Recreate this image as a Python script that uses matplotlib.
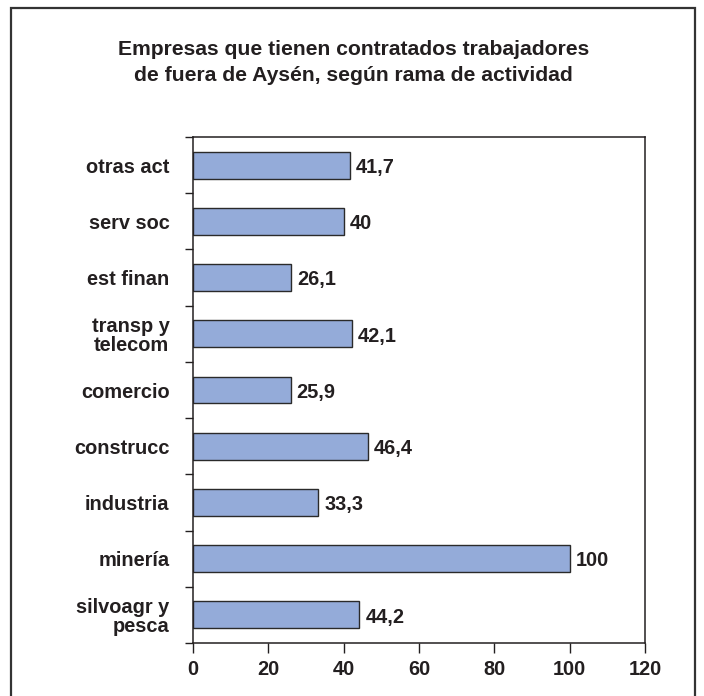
import matplotlib
matplotlib.use("Agg")
import matplotlib.pyplot as plt
from matplotlib.patches import Rectangle
import numpy as np

plt.rcParams['font.family'] = ['Liberation Sans', 'DejaVu Sans']
plt.rcParams['font.weight'] = 'bold'

categories = ["silvoagr y\npesca", "minería", "industria", "construcc", "comercio",
              "transp y\ntelecom", "est finan", "serv soc", "otras act"]
values = [44.2, 100, 33.3, 46.4, 25.9, 42.1, 26.1, 40, 41.7]
value_labels = ["44,2", "100", "33,3", "46,4", "25,9", "42,1", "26,1", "40", "41,7"]
xticks = [0, 20, 40, 60, 80, 100, 120]
title = "Empresas que tienen contratados trabajadores\nde fuera de Aysén, según rama de actividad"

FS = 14.4
TXT = '#231f20'

fig = plt.figure(figsize=(7.04, 6.96), dpi=100)
fig.patch.set_facecolor('white')

# outer frame
fig.patches.append(Rectangle((11/704, -0.02), (695-11)/704, 1 - 8/696 + 0.02,
                             transform=fig.transFigure, fill=False,
                             edgecolor='#333333', linewidth=1.6))

ax = fig.add_axes([193/704, 1 - 643/696, (645-193)/704, (643-137)/696])
y = np.arange(len(categories))
ax.barh(y, values, height=0.48, color='#94ABD9', edgecolor='#2a2a2a', linewidth=1.0)

for yi, v, lab in zip(y, values, value_labels):
    ax.text(v + 1.6, yi - 0.04, lab, va='center', ha='left', fontsize=FS,
            fontweight='bold', color=TXT)

ax.set_xlim(0, 120)
ax.set_ylim(-0.5, len(categories) - 0.5)
ax.set_xticks(xticks)
ax.set_xticklabels([str(t) for t in xticks], fontsize=FS, fontweight='bold', color=TXT)
ax.set_yticks(y)
ax.set_yticklabels(categories, fontsize=FS, fontweight='bold', color=TXT,
                   multialignment='right', linespacing=1.0)
ax.set_yticks(np.arange(-0.5, len(categories) + 0.5, 1), minor=True)
ax.tick_params(axis='y', which='major', length=0, pad=17)
ax.tick_params(axis='y', which='minor', length=6, width=1.0, color=TXT)
ax.tick_params(axis='x', which='major', length=7, width=1.0, color=TXT, pad=5)
for s in ax.spines.values():
    s.set_linewidth(1.1)
    s.set_color(TXT)

fig.text(0.502, 1 - 62.5/696, title, ha='center', va='center', fontsize=15.2,
         fontweight='bold', color=TXT, linespacing=1.45)

fig.savefig('out.png', dpi=100)
